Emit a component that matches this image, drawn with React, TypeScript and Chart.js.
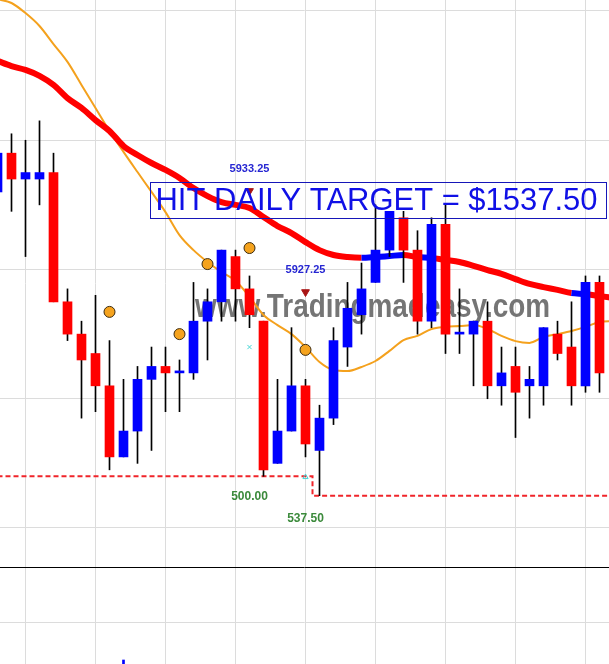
import React, { useEffect, useRef } from 'react';
import { Chart, registerables } from 'chart.js';

Chart.register(...registerables);

// ---------- data ----------
const barIndex = [-1, 0, 1, 2, 3, 4, 5, 6, 7, 8, 9, 10, 11, 12, 13, 14, 15, 16, 17, 18, 19, 20, 21, 22, 23, 24, 25, 26, 27, 28, 29, 30, 31, 32, 33, 34, 35, 36, 37, 38, 39, 40, 41, 42];
const opens = [5928, 5929.5, 5928.5, 5928.5, 5928.75, 5923.75, 5922.5, 5921.75, 5920.5, 5917.75, 5918.75, 5920.75, 5921.25, 5921, 5921, 5923, 5923.75, 5925.5, 5924.25, 5923, 5917.5, 5918.75, 5920.5, 5918, 5919.25, 5922, 5923.25, 5924.5, 5925.75, 5927, 5925.75, 5923, 5926.75, 5922.5, 5922.5, 5923, 5920.5, 5921.25, 5920.5, 5920.5, 5922.5, 5922, 5920.5, 5924.5];
const highs = [5929.5, 5930.25, 5930, 5930.75, 5929.5, 5924.25, 5923, 5924, 5922.25, 5920.75, 5921.25, 5922, 5922, 5921.5, 5924.5, 5924.25, 5925.75, 5925.75, 5924.75, 5923, 5920.75, 5922.75, 5920.75, 5919.75, 5922.75, 5924.5, 5925.25, 5927.5, 5927.25, 5927.25, 5926.5, 5927, 5927.5, 5924.25, 5923, 5923.75, 5922, 5922, 5921.25, 5922.75, 5923, 5923.75, 5924.75, 5924.75];
const lows = [5928, 5927.25, 5925.5, 5927.5, 5923.75, 5922.25, 5919.25, 5919.5, 5917.25, 5917.75, 5917.5, 5918, 5919.5, 5919.5, 5920.75, 5921.5, 5923, 5923, 5922.75, 5917, 5917.5, 5918.75, 5917.75, 5916.25, 5919, 5921.25, 5922.5, 5924.5, 5925.5, 5924.5, 5922.5, 5922.75, 5921.75, 5921.75, 5920.5, 5920, 5919.75, 5918.5, 5919.25, 5919.75, 5921.5, 5919.75, 5920.25, 5920.25];
const closes = [5929.5, 5928.5, 5928.75, 5928.75, 5923.75, 5922.5, 5921.5, 5920.5, 5917.75, 5918.75, 5920.75, 5921.25, 5921, 5921, 5923, 5923.75, 5925.75, 5924.25, 5923.25, 5917.25, 5918.75, 5920.5, 5918.25, 5919.25, 5922.25, 5923.5, 5924.25, 5925.75, 5927.25, 5925.75, 5923, 5926.75, 5922.5, 5922.5, 5923, 5920.5, 5921, 5920.25, 5920.75, 5922.75, 5921.75, 5920.5, 5924.5, 5921];

const lineIndex = [-1, 0, 1, 2, 3, 4, 5, 6, 7, 8, 9, 10, 11, 12, 13, 14, 15, 16, 17, 18, 19, 20, 21, 22, 23, 24, 25, 26, 27, 28, 29, 30, 31, 32, 33, 34, 35, 36, 37, 38, 39, 40, 41, 42, 43];
const slowMA = [5933.07, 5932.87, 5932.72, 5932.49, 5932.14, 5931.63, 5931.25, 5930.78, 5930.36, 5929.78, 5929.43, 5929.12, 5928.85, 5928.54, 5928.15, 5927.84, 5927.61, 5927.5, 5927.38, 5927.03, 5926.68, 5926.41, 5926.06, 5925.75, 5925.56, 5925.48, 5925.45, 5925.48, 5925.52, 5925.56, 5925.48, 5925.45, 5925.37, 5925.29, 5925.14, 5924.98, 5924.83, 5924.63, 5924.44, 5924.32, 5924.21, 5924.09, 5924.05, 5923.97, 5923.9];
const slowRisingSegments = [25, 26, 27, 29, 40];
const fastMA = [5935.46, 5935.31, 5934.92, 5934.42, 5933.72, 5933.03, 5932.14, 5931.25, 5930.36, 5929.55, 5928.77, 5928, 5927.22, 5926.33, 5925.75, 5925.29, 5924.9, 5924.56, 5923.94, 5923.24, 5922.85, 5922.5, 5922, 5921.42, 5921.11, 5921.07, 5921.23, 5921.46, 5921.85, 5922.27, 5922.43, 5922.7, 5922.78, 5922.81, 5922.85, 5922.7, 5922.43, 5922.23, 5922.16, 5922.39, 5922.5, 5922.62, 5922.78, 5922.97, 5923.01];
const stopLine = [5917, 5917, 5917, 5917, 5917, 5917, 5917, 5917, 5917, 5917, 5917, 5917, 5917, 5917, 5917, 5917, 5917, 5917, 5917, 5917, 5917, 5917, 5917, 5916.25, 5916.25, 5916.25, 5916.25, 5916.25, 5916.25, 5916.25, 5916.25, 5916.25, 5916.25, 5916.25, 5916.25, 5916.25, 5916.25, 5916.25, 5916.25, 5916.25, 5916.25, 5916.25, 5916.25, 5916.25, 5916.25];

const dotIndex = [7, 12, 14, 17, 21];
const dotPrice = [5923.36, 5922.5, 5925.21, 5925.83, 5921.89];

const signalIndex = [17, 21];
const signalPrice = [5928.04, 5924.13];
const signalText = ['5933.25', '5927.25'];

const crossIndex = [17, 21];
const crossPrice = [5922, 5916.97];
const crossStyle = ['crossRot', 'triangle'];

const stopLabelIndex = [17, 21];
const stopLabelPrice = [5916.2, 5915.35];
const stopLabelText = ['500.00', '537.50'];

const targetText = 'HIT DAILY TARGET = $1537.50';
const targetXRange = [9.86, 42.46];
const targetPriceRange = [5928.38, 5926.99];
const watermarkText = 'www.Tradingmadeasy.com';

const gridIndex = [1, 6, 11, 16, 21, 26, 31, 36, 41];
const gridPrices = [5915, 5920, 5925, 5930, 5935];

const lowerIndex = [8];
const lowerValues = [4];
const lowerGrid = [41, 97];

// ---------- scale ranges ----------
const XMIN = -11.5 / 14;
const XMAX = 597.5 / 14;
const YMIN = 5913.491;
const YMAX = 5935.4255;

const BLUE = '#0000ff';
const RED = '#ff0000';
const GRID = '#dcdcdc';
const FONT = '"Liberation Sans", Arial, sans-serif';

const xScale = () => ({
  type: 'linear' as const,
  min: XMIN,
  max: XMAX,
  offset: false,
  ticks: { display: false },
  grid: { color: GRID, drawTicks: false, lineWidth: 1, offset: false },
  border: { display: false },
  afterBuildTicks: (axis: any) => {
    axis.ticks = gridIndex.map((v) => ({ value: v }));
  },
});

const decorPlugin = {
  id: 'decor',
  beforeDatasetsDraw(chart: any) {
    const { ctx } = chart;
    ctx.save();
    ctx.font = `bold 33px ${FONT}`;
    ctx.fillStyle = 'rgba(105,105,105,0.92)';
    ctx.textAlign = 'left';
    ctx.textBaseline = 'alphabetic';
    ctx.fillText(watermarkText, 195, 317, 355);
    ctx.restore();
  },
  afterDatasetsDraw(chart: any) {
    const { ctx } = chart;
    const x = chart.scales.x;
    const y = chart.scales.y;
    ctx.save();
    // signal price labels
    ctx.font = `bold 11px ${FONT}`;
    ctx.fillStyle = '#2626d2';
    ctx.textAlign = 'center';
    ctx.textBaseline = 'middle';
    signalIndex.forEach((i, k) => {
      ctx.fillText(signalText[k], x.getPixelForValue(i), y.getPixelForValue(signalPrice[k]) - 22);
    });
    // stop labels
    ctx.font = `bold 12px ${FONT}`;
    ctx.fillStyle = '#3b8a3b';
    stopLabelIndex.forEach((i, k) => {
      ctx.fillText(stopLabelText[k], x.getPixelForValue(i), y.getPixelForValue(stopLabelPrice[k]));
    });
    // target box
    const x0 = Math.round(x.getPixelForValue(targetXRange[0])) + 0.5;
    const x1 = Math.round(x.getPixelForValue(targetXRange[1])) + 0.5;
    const y0 = Math.round(y.getPixelForValue(targetPriceRange[0])) + 0.5;
    const y1 = Math.round(y.getPixelForValue(targetPriceRange[1])) + 0.5;
    ctx.strokeStyle = '#1616b8';
    ctx.lineWidth = 1;
    ctx.strokeRect(x0, y0, x1 - x0, y1 - y0);
    ctx.font = `31px ${FONT}`;
    ctx.fillStyle = '#1010e6';
    ctx.textAlign = 'left';
    ctx.textBaseline = 'alphabetic';
    ctx.fillText(targetText, x0 + 5, y1 - 8.5, 442);
    ctx.restore();
  },
};

const baseOptions = {
  responsive: false,
  animation: false,
  events: [],
  layout: { padding: 0, autoPadding: false },
  plugins: { legend: { display: false }, tooltip: { enabled: false } },
};

export default function App() {
  const mainRef = useRef<HTMLCanvasElement>(null);
  const lowRef = useRef<HTMLCanvasElement>(null);

  useEffect(() => {
    const bodyColors = barIndex.map((_, k) => (closes[k] >= opens[k] ? BLUE : RED));
    const main = new Chart(mainRef.current as HTMLCanvasElement, {
      type: 'bar',
      data: {
        datasets: [
          {
            type: 'line',
            data: crossIndex.map((i, k) => ({ x: i, y: crossPrice[k] })),
            showLine: false,
            pointStyle: crossStyle as any,
            pointRadius: 3,
            borderColor: '#48d6d6',
            backgroundColor: 'rgba(0,0,0,0)',
            pointBorderWidth: 1,
            order: 0,
          } as any,
          {
            type: 'line',
            data: dotIndex.map((i, k) => ({ x: i, y: dotPrice[k] })),
            showLine: false,
            pointStyle: 'circle',
            pointRadius: 5.5,
            pointBackgroundColor: '#f5a31e',
            pointBorderColor: '#3a2a10',
            pointBorderWidth: 1,
            order: 0,
          } as any,
          {
            type: 'line',
            data: signalIndex.map((i, k) => ({ x: i, y: signalPrice[k] })),
            showLine: false,
            pointStyle: 'triangle',
            rotation: 180,
            pointRadius: 4.5,
            pointBackgroundColor: '#a81414',
            pointBorderColor: '#a81414',
            pointBorderWidth: 1,
            order: 0,
          } as any,
          {
            type: 'bar',
            data: barIndex.map((i, k) => ({ x: i, y: [opens[k], closes[k]] })),
            backgroundColor: bodyColors,
            barThickness: 9,
            minBarLength: 2,
            grouped: false,
            borderWidth: 0,
            order: 1,
          } as any,
          {
            type: 'bar',
            data: barIndex.map((i, k) => ({ x: i, y: [lows[k], highs[k]] })),
            backgroundColor: '#000000',
            barThickness: 1,
            grouped: false,
            borderWidth: 0,
            order: 2,
          } as any,
          {
            type: 'line',
            data: lineIndex.map((i, k) => ({ x: i, y: slowMA[k] })),
            borderColor: RED,
            borderWidth: 6,
            pointRadius: 0,
            cubicInterpolationMode: 'monotone',
            borderJoinStyle: 'round',
            segment: {
              borderColor: (c: any) => (slowRisingSegments.includes(lineIndex[c.p0DataIndex]) ? BLUE : RED),
            },
            order: 3,
          } as any,
          {
            type: 'line',
            data: lineIndex.map((i, k) => ({ x: i, y: fastMA[k] })),
            borderColor: '#f4a11d',
            borderWidth: 2,
            pointRadius: 0,
            cubicInterpolationMode: 'monotone',
            order: 4,
          } as any,
          {
            type: 'line',
            data: lineIndex.map((i, k) => ({ x: i, y: stopLine[k] })),
            borderColor: '#f0242a',
            borderWidth: 2,
            borderDash: [5, 3],
            stepped: 'middle',
            pointRadius: 0,
            order: 5,
          } as any,
        ],
      },
      options: {
        ...baseOptions,
        scales: {
          x: xScale() as any,
          y: {
            type: 'linear',
            min: YMIN,
            max: YMAX,
            ticks: { display: false },
            grid: { color: GRID, drawTicks: false, lineWidth: 1 },
            border: { display: false },
            afterBuildTicks: (axis: any) => {
              axis.ticks = gridPrices.map((v) => ({ value: v }));
            },
          },
        },
      } as any,
      plugins: [decorPlugin],
    });

    const lower = new Chart(lowRef.current as HTMLCanvasElement, {
      type: 'bar',
      data: {
        datasets: [
          {
            data: lowerIndex.map((i, k) => ({ x: i, y: lowerValues[k] })),
            backgroundColor: BLUE,
            barThickness: 2,
            borderWidth: 0,
          } as any,
        ],
      },
      options: {
        ...baseOptions,
        scales: {
          x: xScale() as any,
          y: {
            type: 'linear',
            min: 0,
            max: 97,
            ticks: { display: false },
            grid: {
              color: (c: any) => (c.tick && c.tick.value === 97 ? '#000000' : GRID),
              drawTicks: false,
              lineWidth: 1,
            },
            border: { display: false },
            afterBuildTicks: (axis: any) => {
              axis.ticks = lowerGrid.map((v) => ({ value: v }));
            },
          },
        },
      } as any,
    });

    return () => {
      main.destroy();
      lower.destroy();
    };
  }, []);

  return (
    <div style={{ position: 'absolute', left: 0, top: 0, width: 609, height: 664, background: '#ffffff' }}>
      <canvas ref={mainRef} width={609} height={567} style={{ display: 'block' }} />
      <canvas ref={lowRef} width={609} height={97} style={{ display: 'block' }} />
    </div>
  );
}
